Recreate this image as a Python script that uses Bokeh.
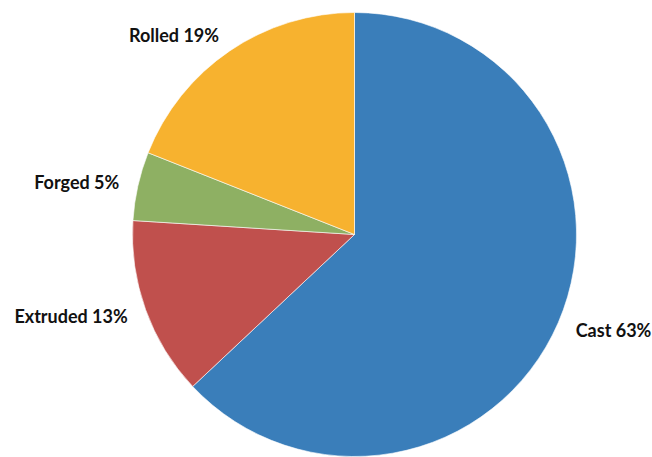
import numpy as np
from bokeh.plotting import figure
from bokeh.models import ColumnDataSource, Range1d
from bokeh.embed import file_html
from bokeh.resources import INLINE
from bokeh.core.properties import value

categories = ["Cast", "Extruded", "Forged", "Rolled"]
shares = [63, 13, 5, 19]
colors = ["#3A7EBA", "#C0504D", "#8EB063", "#F7B22F"]

W, H = 652, 457
cx, cy, r = 354, 457 - 234, 222
label_r = 241

frac = np.array(shares, dtype=float) / sum(shares)
ends = np.cumsum(frac) * 2 * np.pi
starts = ends - frac * 2 * np.pi
start_ang = np.pi / 2 - starts
end_ang = np.pi / 2 - ends
mid = (start_ang + end_ang) / 2

src = ColumnDataSource(dict(
    x=[cx] * len(shares), y=[cy] * len(shares),
    start=start_ang, end=end_ang, color=colors,
))

p = figure(width=W, height=H, x_range=Range1d(0, W), y_range=Range1d(0, H),
           output_backend="svg", toolbar_location=None, min_border=0)
p.axis.visible = False
p.grid.visible = False
p.outline_line_color = None
p.background_fill_color = "white"

p.wedge(x="x", y="y", radius=r, start_angle="start", end_angle="end",
        direction="clock", fill_color="color", line_color="white",
        line_width=0.6, source=src)

lx = cx + label_r * np.cos(mid)
ly = cy + label_r * np.sin(mid)
align = ["left" if np.cos(a) > 0 else "right" for a in mid]
texts = [f"{c} {s}%" for c, s in zip(categories, shares)]
lsrc = ColumnDataSource(dict(x=lx, y=ly, text=texts, align=align))
p.text(x="x", y="y", text="text", text_align="align", text_baseline="middle",
       text_font=value("Lato"), text_font_style="bold", text_font_size="18px",
       text_color="#111111", source=lsrc)

open("out.html", "w").write(file_html(p, INLINE))
